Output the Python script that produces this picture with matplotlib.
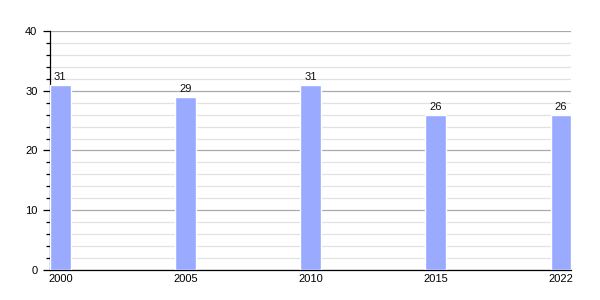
import matplotlib.pyplot as plt
import numpy as np
from matplotlib.ticker import MultipleLocator

plt.rcParams['font.family'] = ['Liberation Sans', 'DejaVu Sans']

years = ['2000', '2005', '2010', '2015', '2022']
values = [31, 29, 31, 26, 26]

fig = plt.figure(figsize=(6, 3), dpi=100)
ax = fig.add_axes([0.0833, 0.1, 0.8687, 0.7967])

x = np.arange(len(years))
w = 0.165
ax.bar(x, values, width=w, color='#99aaff', edgecolor='white', linewidth=1.0, zorder=3)

for xi, v in zip(x, values):
    ax.text(xi, v + 0.4, str(v), ha='center', va='bottom', fontsize=8, color='#111111')

ax.set_xlim(-w / 2, len(years) - 1 + w / 2)
ax.set_ylim(0, 40)
ax.set_xticks(x)
ax.set_xticklabels(years)
ax.yaxis.set_major_locator(MultipleLocator(10))
ax.yaxis.set_minor_locator(MultipleLocator(2))

ax.grid(axis='y', which='major', color='#aaaaaa', linewidth=0.9, zorder=0)
ax.grid(axis='y', which='minor', color='#e2e2e2', linewidth=0.9, zorder=0)

for s in ['top', 'right']:
    ax.spines[s].set_visible(False)
ax.spines['left'].set_linewidth(0.9)
ax.spines['bottom'].set_linewidth(0.9)

ax.tick_params(axis='y', which='major', length=5, width=0.9, labelsize=8, pad=4)
ax.tick_params(axis='y', which='minor', length=3, width=0.9)
ax.tick_params(axis='x', length=0, labelsize=8, pad=3)

fig.savefig('out.png', dpi=100)
